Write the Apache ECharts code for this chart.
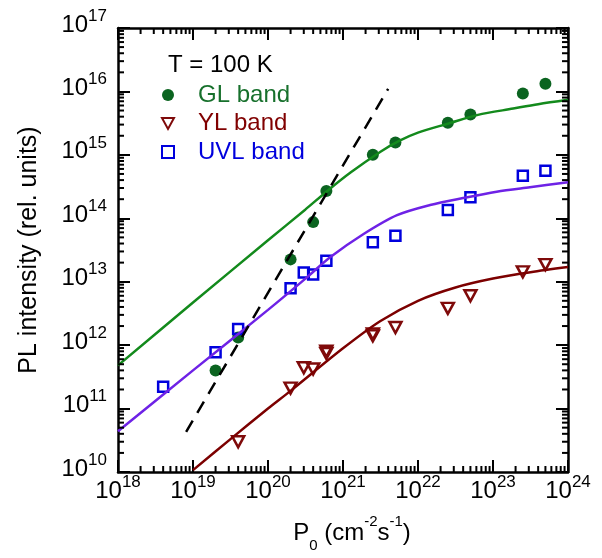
<!DOCTYPE html>
<html><head><meta charset="utf-8">
<script src="https://cdn.jsdelivr.net/npm/echarts@6/dist/echarts.min.js"></script>
<style>html,body{margin:0;padding:0;background:#fff}#c{width:602px;height:558px}</style>
</head><body><div id="c"></div>
<script>
// ---- data ----
const glX  = [2e19, 4e19, 2e20, 4e20, 6e20, 2.5e21, 5e21, 2.5e22, 5e22, 2.5e23, 5e23];
const glY  = [4.0e11, 1.32e12, 2.25e13, 8.7e13, 2.7e14, 1.0e15, 1.57e15, 3.2e15, 4.33e15, 9.3e15, 1.32e16];

const ylX  = [4e19, 2e20, 3e20, 4e20, 6e20, 6e20, 2.5e21, 2.5e21, 5e21, 2.5e22, 5e22, 2.5e23, 5e23];
const ylY  = [3.0e10, 2.1e11, 4.4e11, 4.2e11, 7.4e11, 8.0e11, 1.4e12, 1.5e12, 1.9e12, 3.8e12, 6.0e12, 1.43e13, 1.86e13];

const uvlX = [4e18, 2e19, 4e19, 2e20, 3e20, 4e20, 6e20, 2.5e21, 5e21, 2.5e22, 5e22, 2.5e23, 5e23];
const uvlY = [2.2e11, 7.7e11, 1.8e12, 7.9e12, 1.4e13, 1.3e13, 2.15e13, 4.2e13, 5.3e13, 1.35e14, 2.14e14, 4.7e14, 5.6e14];

const glFitX  = [1e18, 1e19, 1e20, 3.16e20, 6.3e20, 1.26e21, 3.16e21, 5.6e21, 1e22, 2.5e22, 6.3e22, 1.86e23, 4e23, 1e24];
const glFitY  = [4.8e11, 4.7e12, 4.5e13, 1.38e14, 2.75e14, 5.25e14, 1.12e15, 1.66e15, 2.24e15, 3.1e15, 4.27e15, 5.37e15, 6.3e15, 7.4e15];

const uvlFitX = [1e18, 1e19, 1e20, 3.16e20, 6.8e20, 1.86e21, 5.25e21, 1.45e22, 4e22, 1.12e23, 3.1e23, 1e24];
const uvlFitY = [4.4e10, 4.0e11, 3.6e12, 1.12e13, 2.45e13, 5.6e13, 1.12e14, 1.62e14, 2.09e14, 2.63e14, 3.09e14, 3.7e14];

const ylFitX  = [1e19, 3.16e19, 1e20, 2e20, 1e21, 3.16e21, 1e22, 3.16e22, 1e23, 3.16e23, 1e24];
const ylFitY  = [1.07e10, 3.3e10, 1e11, 1.9e11, 8.9e11, 2.4e12, 5e12, 8.1e12, 1.12e13, 1.41e13, 1.7e13];

const slopeX = [8.1e18, 4.0e21];
const slopeY = [4.3e10, 1.1e16];

const xRange = [1e18, 1e24];
const yRange = [1e10, 1e17];

const seriesNames = ['GL band', 'YL band', 'UVL band'];
const annotation = 'T = 100 K';

// ---- helpers ----
const FONT = "'Liberation Sans', Arial, sans-serif";
const pairs = (xs, ys) => xs.map((x, i) => [x, ys[i]]);
function minorValues(lo, hi) {
  const out = [];
  for (let e = lo; e < hi; e++) for (let m = 2; m <= 9; m++) out.push(m * Math.pow(10, e));
  return out;
}
const xMinor = minorValues(18, 24);
const yMinor = minorValues(10, 17);

const tickFmt = v => '{b|10}{s|' + Math.round(Math.log10(v)) + '}';
const tickRich = {
  b: {fontSize: 24, lineHeight: 35, fontFamily: FONT, color: '#000'},
  s: {fontSize: 17, lineHeight: 17, verticalAlign: 'top', fontFamily: FONT, color: '#000'}
};
const axisCommon = {
  type: 'log', logBase: 10,
  axisLine: {show: true, onZero: false, lineStyle: {color: '#000', width: 2.5}},
  axisTick: {show: true, inside: true, length: 12, lineStyle: {color: '#000', width: 2}},
  splitLine: {show: false},
  minorTick: {show: false}
};

const chart = echarts.init(document.getElementById('c'), null, {renderer: 'canvas'});
const MINOR = 6;
chart.setOption({
  animation: false,
  backgroundColor: '#fff',
  title: {
    text: annotation, left: 168, top: 53, padding: 0,
    textStyle: {fontSize: 24, fontWeight: 'normal', color: '#000', fontFamily: FONT}
  },
  legend: {
    orient: 'vertical', left: 161, top: 83, padding: 0,
    itemWidth: 12, itemHeight: 12, itemGap: 4.5,
    textStyle: {fontSize: 24, fontFamily: FONT, padding: [0, 0, 0, 19]},
    data: [
      {name: seriesNames[0], textStyle: {color: '#17702c'}},
      {name: seriesNames[1], icon: 'path://M0,0L12,0L6,11Z', textStyle: {color: '#800000'}},
      {name: seriesNames[2], textStyle: {color: '#0000dd'}}
    ]
  },
  grid: {left: 118, right: 34, top: 28, bottom: 81},
  xAxis: [
    Object.assign({}, axisCommon, {
      min: xRange[0], max: xRange[1], position: 'bottom',
      axisLabel: {margin: 2, formatter: tickFmt, rich: tickRich},
      name: 'P{sub|0} (cm{sup|-2}s{sup|-1})', nameLocation: 'middle', nameGap: 42,
      nameTextStyle: {
        fontSize: 24, lineHeight: 39, fontFamily: FONT, color: '#000', padding: [0, 0, 0, 18],
        rich: {
          sub: {fontSize: 15, lineHeight: 5, verticalAlign: 'bottom', fontFamily: FONT, color: '#000'},
          sup: {fontSize: 15, lineHeight: 15, verticalAlign: 'top', fontFamily: FONT, color: '#000'}
        }
      }
    }),
    Object.assign({}, axisCommon, {
      min: xRange[0], max: xRange[1], position: 'top', axisLabel: {show: false}
    })
  ],
  yAxis: [
    Object.assign({}, axisCommon, {
      min: yRange[0], max: yRange[1], position: 'left',
      axisLabel: {margin: 11, padding: [0, 0, 6, 0], formatter: tickFmt, rich: tickRich},
      name: 'PL intensity (rel. units)', nameLocation: 'middle', nameGap: 76,
      nameTextStyle: {fontSize: 25, fontFamily: FONT, color: '#000'}
    }),
    Object.assign({}, axisCommon, {
      min: yRange[0], max: yRange[1], position: 'right', axisLabel: {show: false}
    })
  ],
  series: [
    {
      type: 'custom', silent: true, z: 10, data: xMinor.map(v => [v, 1e12]),
      encode: {x: 0, y: 1},
      renderItem: (params, api) => {
        const cs = params.coordSys;
        const x = api.coord([api.value(0), api.value(1)])[0];
        const st = {stroke: '#000', lineWidth: 2};
        return {type: 'group', children: [
          {type: 'line', shape: {x1: x, y1: cs.y + cs.height, x2: x, y2: cs.y + cs.height - MINOR}, style: st},
          {type: 'line', shape: {x1: x, y1: cs.y, x2: x, y2: cs.y + MINOR}, style: st}
        ]};
      }
    },
    {
      type: 'custom', silent: true, z: 10, data: yMinor.map(v => [1e20, v]),
      encode: {x: 0, y: 1},
      renderItem: (params, api) => {
        const cs = params.coordSys;
        const y = api.coord([api.value(0), api.value(1)])[1];
        const st = {stroke: '#000', lineWidth: 2};
        return {type: 'group', children: [
          {type: 'line', shape: {x1: cs.x, y1: y, x2: cs.x + MINOR, y2: y}, style: st},
          {type: 'line', shape: {x1: cs.x + cs.width, y1: y, x2: cs.x + cs.width - MINOR, y2: y}, style: st}
        ]};
      }
    },
    {type: 'line', name: 'GL fit', data: pairs(glFitX, glFitY), showSymbol: false, smooth: 0.3,
      lineStyle: {color: '#138a1c', width: 2.5}, silent: true},
    {type: 'line', name: 'UVL fit', data: pairs(uvlFitX, uvlFitY), showSymbol: false, smooth: 0.3,
      lineStyle: {color: '#6e22e6', width: 2.5}, silent: true},
    {type: 'line', name: 'YL fit', data: pairs(ylFitX, ylFitY), showSymbol: false, smooth: 0.3,
      lineStyle: {color: '#7c0000', width: 2.5}, silent: true},
    {type: 'line', name: 'slope', data: pairs(slopeX, slopeY), showSymbol: false,
      lineStyle: {color: '#000', width: 2.5, type: [13, 9]}, silent: true},
    {type: 'scatter', name: seriesNames[0], data: pairs(glX, glY), symbol: 'circle', symbolSize: 12,
      itemStyle: {color: '#0b6420', opacity: 1}},
    {type: 'scatter', name: seriesNames[1], data: pairs(ylX, ylY), symbol: 'triangle', symbolRotate: 180,
      symbolSize: [12, 11], itemStyle: {color: 'rgba(0,0,0,0)', borderColor: '#7f0a0a', borderWidth: 2.5, opacity: 1}},
    {type: 'scatter', name: seriesNames[2], data: pairs(uvlX, uvlY), symbol: 'rect', symbolSize: 10,
      itemStyle: {color: 'rgba(0,0,0,0)', borderColor: '#0000dd', borderWidth: 2.5, opacity: 1}}
  ]
});
</script></body></html>
